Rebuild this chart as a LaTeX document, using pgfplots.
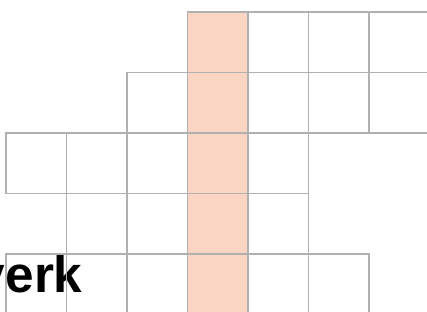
\documentclass[border=0pt]{standalone}
\usepackage{pgfplots}
\pgfplotsset{compat=1.18}
\usepackage{fontspec}
\setmainfont{Liberation Sans}
\definecolor{gridgray}{RGB}{176,176,176}
\definecolor{peach}{RGB}{250,213,195}
\begin{document}
\begin{tikzpicture}
\useasboundingbox (0pt,0pt) rectangle (320.25pt,233.25pt);
\clip (0pt,0pt) rectangle (320.25pt,233.25pt);
\node[anchor=base west, inner sep=0pt, font=\fontsize{38.5}{40}\selectfont\bfseries] at (-17.5pt,14.2pt) {verk};
\begin{axis}[
  at={(0pt,0pt)}, anchor=south west,
  scale only axis, width=320.25pt, height=233.25pt,
  xmin=0, xmax=427, ymin=0, ymax=311, y dir=reverse,
  axis lines=none, clip=false,
]
% white cells (column centre, row centre) in picture pixels
\addplot[only marks, mark=square, mark size=22.69pt,
  mark options={draw=gridgray, line width=1pt}] coordinates {
  (278.25,42.25) (338.75,42.25) (399.25,42.25)
  (157.25,102.75) (278.25,102.75) (338.75,102.75) (399.25,102.75)
  (36.25,163.25) (96.75,163.25) (157.25,163.25) (278.25,163.25)
  (96.75,223.75) (157.25,223.75) (278.25,223.75)
  (36.25,284.25) (96.75,284.25) (157.25,284.25) (278.25,284.25) (338.75,284.25)
};
% highlighted cells
\addplot[only marks, mark=square*, mark size=22.69pt,
  mark options={draw=gridgray, fill=peach, line width=1pt}] coordinates {
  (217.75,42.25) (217.75,102.75) (217.75,163.25) (217.75,223.75) (217.75,284.25)
};
\end{axis}
\end{tikzpicture}
\end{document}
